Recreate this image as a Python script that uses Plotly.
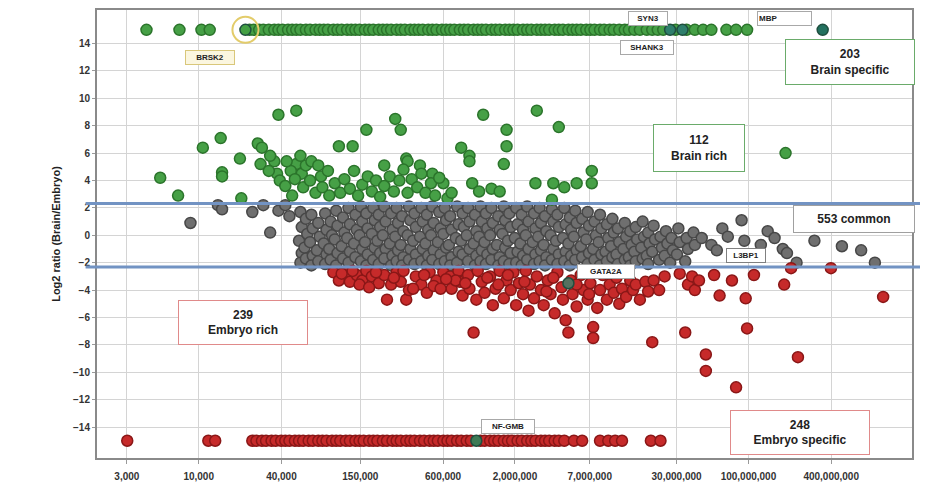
import plotly.graph_objects as go

SPECIFIC_RATIO = 15
FOLD_THRESHOLD = 2.32

x_tick_values = [3e3, 1e4, 4e4, 1.5e5, 6e5, 2e6, 7e6, 3e7, 1e8, 4e8]
x_tick_labels = ["3,000", "10,000", "40,000", "150,000", "600,000", "2,000,000",
                 "7,000,000", "30,000,000", "100,000,000", "400,000,000"]
y_tick_values = [-14, -12, -10, -8, -6, -4, -2, 0, 2, 4, 6, 8, 10, 12, 14]

# log10 of abundance (x) for proteins only detected in brain (ratio capped at +15)
brain_specific_log = [
    3.62, 3.86, 4.02, 4.08,
    4.37, 4.40, 4.44, 4.47, 4.51, 4.55, 4.58, 4.61, 4.65, 4.68, 4.71, 4.74, 4.78, 4.81,
    4.85, 4.88, 4.91, 4.94, 4.98, 5.01, 5.04, 5.08, 5.11, 5.14, 5.17, 5.21, 5.24, 5.27,
    5.31, 5.34, 5.37, 5.40, 5.44, 5.47, 5.50, 5.54, 5.57, 5.60, 5.63, 5.67, 5.70, 5.73,
    5.77, 5.80, 5.83, 5.86, 5.90, 5.93, 5.96, 6.00, 6.03, 6.06, 6.09, 6.13, 6.16, 6.19,
    6.23, 6.26, 6.29, 6.32, 6.36, 6.39, 6.42, 6.46, 6.49, 6.52, 6.55, 6.59, 6.62, 6.65,
    6.69, 6.72, 6.75, 6.78, 6.82, 6.85, 6.88, 6.92, 6.95, 6.99, 7.02, 7.06, 7.10, 7.13,
    7.17, 7.21, 7.26, 7.30, 7.34, 7.38, 7.47, 7.55, 7.61, 7.67, 7.73, 7.84, 7.91, 7.99,
]

# proteins only detected in embryo (ratio capped at -15)
embryo_specific_log = [
    3.48, 4.07, 4.12,
    4.39, 4.42, 4.46, 4.49, 4.53, 4.56, 4.60, 4.63, 4.66, 4.70, 4.73, 4.76, 4.80, 4.83,
    4.87, 4.90, 4.93, 4.97, 5.00, 5.03, 5.07, 5.10, 5.14, 5.17, 5.20, 5.24, 5.27, 5.30,
    5.34, 5.37, 5.41, 5.44, 5.47, 5.51, 5.54, 5.57, 5.61, 5.64, 5.68, 5.71, 5.74, 5.78,
    5.81, 5.84, 5.88, 5.91, 5.95, 5.98, 6.05, 6.08, 6.12, 6.15, 6.18, 6.22, 6.25, 6.28,
    6.32, 6.35, 6.39, 6.42, 6.45, 6.49, 6.52, 6.55, 6.59, 6.62, 6.66, 6.73, 6.79, 6.92,
    6.98, 7.03, 7.08, 7.29, 7.36,
]

brain_rich_log = [
    3.72, 3.85, 4.03, 4.16, 4.17, 4.17, 4.30, 4.31, 4.43, 4.46, 4.45, 4.58, 4.71, 4.55, 4.57, 4.59, 4.71, 4.75, 4.76,
    5.02, 5.12, 5.22, 5.43, 5.47, 5.35, 5.51, 5.52, 5.61, 5.70, 5.78, 5.81,
    6.07, 5.91, 5.97, 5.97, 5.99, 6.04, 6.13, 6.19, 6.24, 6.24, 6.22,
    6.46, 6.62, 6.45, 6.58, 6.66, 6.75, 6.86, 6.86, 6.57, 8.27,
    4.78, 4.81, 4.85, 4.89, 4.90, 4.94, 4.95, 4.99, 5.03, 5.06, 5.10, 5.13, 5.16, 5.19, 5.23, 5.26,
    5.29, 5.32, 5.35, 5.39, 5.42, 5.46, 5.49, 5.52, 5.55, 5.59, 5.62, 5.65, 5.69, 5.72, 5.75, 5.84,
    4.63, 4.67, 4.68, 4.74, 4.82, 4.87, 4.64, 4.70, 4.52, 4.51,
]
brain_rich_ratio = [
    4.2, 2.9, 6.4, 7.1, 4.6, 4.3, 5.6, 2.7, 6.7, 6.4, 5.2, 8.8, 9.1, 5.4, 4.5, 4.0, 5.2, 4.5, 3.5,
    6.5, 6.5, 7.7, 8.5, 7.7, 5.1, 5.6, 5.4, 5.1, 4.5, 3.8, 2.7,
    8.8, 6.4, 5.8, 5.4, 3.8, 3.2, 3.4, 3.2, 7.7, 6.5, 5.2,
    9.1, 7.9, 3.8, 3.8, 3.5, 3.8, 4.7, 3.8, 2.6, 6.0,
    5.1, 4.0, 3.1, 4.3, 3.5, 4.7, 2.9, 3.8, 3.1, 4.1, 3.4, 4.7, 2.9, 3.7, 4.3, 3.2,
    4.0, 2.8, 3.6, 4.3, 3.2, 4.0, 4.8, 3.1, 4.1, 3.5, 4.5, 3.1, 3.8, 2.9, 4.2, 3.1,
    3.6, 4.7, 2.9, 5.8, 5.4, 5.1, 5.4, 4.1, 5.8, 4.7,
]

common_log = [
    3.94, 4.14, 4.17, 4.39, 4.47, 4.52, 4.58, 4.63, 4.66,
    4.74, 4.75, 4.73, 4.75, 4.74,
    4.78, 4.79, 4.77, 4.78,
    4.82, 4.83, 4.81, 4.83, 4.82,
    4.87, 4.88, 4.86, 4.87,
    4.92, 4.93, 4.91, 4.93, 4.92,
    4.96, 4.97, 4.95, 4.96,
    5.00, 5.01, 4.99, 5.01, 5.00,
    5.05, 5.06, 5.04, 5.05,
    5.09, 5.10, 5.08, 5.10, 5.09,
    5.14, 5.15, 5.13, 5.14,
    5.18, 5.19, 5.17, 5.19, 5.18,
    5.22, 5.23, 5.21, 5.23, 5.22,
    5.27, 5.28, 5.26, 5.28, 5.27,
    5.31, 5.32, 5.30, 5.32, 5.31,
    5.35, 5.36, 5.34, 5.36, 5.35,
    5.40, 5.41, 5.39, 5.41, 5.40,
    5.44, 5.45, 5.43, 5.45, 5.44,
    5.48, 5.49, 5.47, 5.49, 5.48,
    5.53, 5.54, 5.52, 5.54, 5.53,
    5.57, 5.58, 5.56, 5.58, 5.57,
    5.62, 5.63, 5.61, 5.63, 5.62,
    5.66, 5.67, 5.65, 5.67, 5.66,
    5.70, 5.71, 5.69, 5.71, 5.70,
    5.75, 5.76, 5.74, 5.76, 5.75,
    5.79, 5.80, 5.78, 5.80, 5.79,
    5.83, 5.84, 5.82, 5.84, 5.83,
    5.88, 5.89, 5.87, 5.89, 5.88,
    5.92, 5.93, 5.91, 5.92,
    5.96, 5.97, 5.95, 5.97, 5.96,
    6.01, 6.02, 6.00, 6.02, 6.01,
    6.05, 6.06, 6.04, 6.06, 6.05,
    6.09, 6.10, 6.08, 6.10, 6.09,
    6.13, 6.14, 6.12, 6.14, 6.13,
    6.18, 6.19, 6.17, 6.19, 6.18,
    6.22, 6.23, 6.21, 6.23, 6.22,
    6.26, 6.27, 6.25, 6.27, 6.26,
    6.31, 6.32, 6.30, 6.32, 6.31,
    6.35, 6.36, 6.34, 6.36, 6.35,
    6.39, 6.40, 6.38, 6.40, 6.39,
    6.44, 6.45, 6.43, 6.45, 6.44,
    6.48, 6.49, 6.47, 6.49, 6.48,
    6.52, 6.53, 6.51, 6.53, 6.52,
    6.57, 6.58, 6.56, 6.58, 6.57,
    6.61, 6.62, 6.60, 6.62, 6.61,
    6.66, 6.67, 6.65, 6.67, 6.66,
    6.70, 6.71, 6.69, 6.71, 6.70,
    6.74, 6.75, 6.73, 6.75, 6.74,
    6.79, 6.80, 6.78, 6.79,
    6.83, 6.84, 6.82, 6.84, 6.83,
    6.88, 6.89, 6.87, 6.88,
    6.92, 6.93, 6.91, 6.93, 6.92,
    6.97, 6.98, 6.96, 6.97,
    7.01, 7.02, 7.00, 7.01,
    7.05, 7.06, 7.04, 7.05,
    7.10, 7.11, 7.09, 7.10,
    7.14, 7.15, 7.13, 7.14,
    7.18, 7.19, 7.17, 7.18,
    7.23, 7.24, 7.22, 7.23,
    7.27, 7.28, 7.26, 7.27,
    7.31, 7.32, 7.30,
    7.36, 7.37, 7.35,
    7.40, 7.41, 7.39,
    7.44, 7.45, 7.43,
    7.49, 7.50, 7.48,
    7.55, 7.56, 7.54,
    7.60, 7.61,
    7.66, 7.73, 7.77, 7.81, 7.85, 7.95, 7.97, 8.03, 8.09,
    8.14, 8.19, 8.25, 8.28, 8.35, 8.48, 8.68, 8.82, 8.92,
]
common_ratio = [
    0.9, 2.2, 1.9, 1.7, 2.2, 0.2, 1.8, 2.2, 1.4,
    1.7, 0.6, -0.4, -1.3, -2.0,
    1.2, 0.1, -0.9, -1.7,
    1.5, 0.5, -0.5, -1.5, -2.2,
    0.9, -0.1, -1.1, -1.9,
    1.6, 0.4, -0.6, -1.4, -2.1,
    1.0, 0.0, -1.0, -1.8,
    1.8, 0.7, -0.3, -1.3, -2.2,
    1.3, 0.2, -0.8, -1.7,
    2.0, 0.8, -0.2, -1.2, -2.0,
    1.5, 0.4, -0.6, -1.6,
    2.1, 1.0, 0.0, -1.0, -1.9,
    1.6, 0.5, -0.5, -1.4, -2.2,
    2.0, 1.1, 0.1, -0.9, -1.8,
    1.5, 0.6, -0.4, -1.3, -2.1,
    2.1, 1.0, 0.0, -1.0, -1.7,
    1.6, 0.4, -0.6, -1.5, -2.2,
    2.0, 0.9, -0.1, -1.1, -1.9,
    1.4, 0.3, -0.7, -1.6, -2.2,
    2.1, 1.1, 0.0, -1.0, -1.8,
    1.6, 0.6, -0.4, -1.4, -2.1,
    2.0, 1.0, -0.1, -1.0, -1.9,
    1.5, 0.4, -0.6, -1.5, -2.2,
    2.1, 0.9, 0.0, -1.1, -1.8,
    1.7, 0.5, -0.5, -1.4, -2.1,
    2.0, 1.1, 0.1, -0.9, -1.9,
    1.4, 0.4, -0.7, -1.6, -2.2,
    2.1, 0.8, -0.2, -1.2, -2.0,
    1.6, 0.6, -0.4, -1.4,
    2.0, 1.0, 0.0, -1.0, -1.9,
    1.5, 0.3, -0.6, -1.5, -2.2,
    2.1, 1.0, -0.1, -1.1, -1.9,
    1.6, 0.5, -0.5, -1.4, -2.1,
    2.0, 0.9, 0.0, -1.0, -1.8,
    1.4, 0.4, -0.7, -1.6, -2.2,
    2.1, 1.1, 0.1, -0.9, -1.9,
    1.6, 0.6, -0.4, -1.3, -2.1,
    2.0, 0.8, -0.2, -1.2, -2.0,
    1.5, 0.4, -0.6, -1.5, -2.2,
    2.1, 1.0, 0.0, -1.0, -1.8,
    1.6, 0.5, -0.5, -1.4, -2.1,
    2.0, 0.9, -0.1, -1.1, -1.9,
    1.4, 0.3, -0.7, -1.6, -2.2,
    1.9, 1.0, 0.0, -1.0, -1.8,
    1.5, 0.6, -0.4, -1.4, -2.1,
    2.0, 0.8, -0.2, -1.2, -1.9,
    1.3, 0.4, -0.6, -1.5, -2.2,
    1.8, 0.9, -0.1, -1.1, -1.8,
    1.2, 0.2, -0.8, -1.6,
    1.7, 0.7, -0.3, -1.3, -2.1,
    1.0, 0.0, -1.0, -1.8,
    1.5, 0.5, -0.5, -1.4, -2.2,
    0.8, -0.2, -1.2, -1.9,
    1.2, 0.2, -0.8, -1.6,
    0.5, -0.5, -1.4, -2.1,
    0.9, -0.1, -1.0, -1.8,
    0.3, -0.7, -1.6, -2.2,
    0.6, -0.3, -1.2, -1.9,
    1.0, -0.1, -0.9, -1.7,
    0.2, -0.6, -1.5, -2.1,
    0.7, -0.3, -1.2,
    -0.1, -0.9, -1.8,
    0.3, -0.6, -1.5,
    -0.2, -1.1, -2.0,
    0.5, -0.5, -1.4,
    -0.2, -1.0, -1.9,
    0.2, -0.7,
    -0.2, -0.7, -1.1, 0.5, -0.1, 1.1, -0.4, -1.5, -0.7,
    0.3, -0.2, -1.0, -1.3, -2.0, -0.4, -0.8, -1.1, -2.0,
]

embryo_rich_log = [
    4.98, 5.02, 5.07, 5.10, 5.15, 5.19, 5.22, 5.26, 5.31, 5.35, 5.37, 5.40, 5.44, 5.47, 5.51, 5.53, 5.58, 5.62, 5.66, 5.68, 5.73, 5.78,
    5.83, 5.84, 5.89, 5.90, 5.92, 5.96, 5.97, 6.00, 6.02, 6.03, 6.06, 6.08, 6.12, 6.14, 6.16, 6.19, 6.22, 6.24, 6.27, 6.29,
    6.31, 6.33, 6.36, 6.38, 6.40, 6.41, 6.44, 6.46, 6.49, 6.51, 6.54, 6.56, 6.59, 6.61, 6.64, 6.65, 6.67, 6.69, 6.71, 6.72,
    6.75, 6.78, 6.80, 6.83, 6.85, 6.87, 6.87, 6.90, 6.92, 6.94, 6.97, 6.99, 7.02, 7.04, 7.06, 7.08, 7.11, 7.14, 7.16, 7.18,
    7.21, 7.25, 7.27, 7.30, 7.31, 7.35, 7.39, 7.50, 7.54, 7.56, 7.59, 7.61, 7.64, 7.69, 7.69, 7.75, 7.79, 7.88, 7.91, 7.98,
    7.99, 8.04, 8.26, 8.31, 8.36, 8.60, 8.98,
    5.87, 5.94, 6.10, 6.18, 6.25, 6.37, 6.53, 6.58, 6.75, 6.84,
    5.04, 5.12, 5.17, 5.24, 5.29, 5.42, 5.49, 5.56, 5.64, 5.71, 5.76, 5.80,
]
embryo_rich_ratio = [
    -2.7, -3.3, -2.7, -3.4, -2.9, -3.3, -2.6, -3.0, -3.5, -2.9, -4.7, -3.6, -2.7, -3.4, -4.7, -4.0, -3.0, -3.6, -4.2, -2.7, -3.3, -2.7,
    -3.0, -3.9, -2.6, -3.4, -4.4, -2.9, -3.9, -7.1, -4.7, -2.6, -3.4, -4.2, -3.0, -5.1, -3.9, -2.6, -4.6, -3.3, -4.0, -2.7,
    -5.1, -3.5, -4.3, -2.6, -5.5, -3.6, -4.6, -3.0, -4.0, -5.1, -3.3, -4.3, -5.7, -2.7, -3.8, -4.7, -6.2, -7.1, -3.3, -4.3,
    -5.2, -2.9, -4.0, -4.7, -3.5, -6.7, -7.5, -5.3, -4.0, -2.9, -4.7, -3.6, -4.2, -3.1, -5.0, -3.9, -4.5, -3.3, -4.0, -3.6,
    -4.7, -3.4, -4.1, -7.8, -3.3, -4.0, -3.0, -2.8, -7.1, -3.6, -3.0, -4.0, -3.3, -8.7, -9.9, -2.9, -4.4, -3.3, -11.1, -4.6,
    -6.8, -2.9, -3.6, -2.4, -8.9, -2.4, -4.5,
    -3.3, -3.5, -3.1, -3.6, -2.9, -3.4, -4.1, -3.1, -3.6, -4.3,
    -2.8, -2.6, -3.6, -3.8, -2.7, -3.1, -2.6, -3.9, -2.9, -3.7, -3.9, -3.2,
]

highlight_genes = ["BRSK2", "SYN3", "SHANK3", "MBP", "GATA2A", "NF-GMB"]
highlight_log = [4.34, 7.43, 7.52, 8.54, 6.69, 6.02]
highlight_ratio = [15, 15, 15, 15, -3.5, -15]
highlight_fill = ["#43a043", "#2f7f6c", "#2f7f6c", "#23715f", "#56705f", "#3f7a55"]

assert len(common_log) == len(common_ratio)
assert len(brain_rich_log) == len(brain_rich_ratio)
assert len(embryo_rich_log) == len(embryo_rich_ratio)


def to_abund(logs):
    return [10 ** v for v in logs]


GREEN, GREEN_EDGE = "#46a046", "#2b742b"
GREY, GREY_EDGE = "#6f6f6f", "#474747"
RED, RED_EDGE = "#c62a2a", "#8a1717"

fig = go.Figure()


def add_points(logs, ratios, fill, edge, size=11):
    fig.add_trace(go.Scatter(
        x=to_abund(logs), y=ratios, mode="markers", hoverinfo="skip",
        marker=dict(size=size, color=fill, line=dict(color=edge, width=1.5)),
    ))


add_points(common_log, common_ratio, GREY, GREY_EDGE)
add_points(brain_rich_log, brain_rich_ratio, GREEN, GREEN_EDGE)
add_points(embryo_rich_log, embryo_rich_ratio, RED, RED_EDGE)
add_points(brain_specific_log, [SPECIFIC_RATIO] * len(brain_specific_log), GREEN, GREEN_EDGE)
add_points(embryo_specific_log, [-SPECIFIC_RATIO] * len(embryo_specific_log), RED, RED_EDGE)
add_points(highlight_log, highlight_ratio, highlight_fill, "#1f4f3f")

# yellow ring around BRSK2
fig.add_trace(go.Scatter(
    x=to_abund(highlight_log[:1]), y=highlight_ratio[:1], mode="markers", hoverinfo="skip",
    marker=dict(size=26, symbol="circle-open", color="#e3cc6a", line=dict(color="#e3cc6a", width=2)),
))

FONT = "Liberation Sans, Arial, sans-serif"

shapes = []
for yv in (FOLD_THRESHOLD, -FOLD_THRESHOLD):
    shapes.append(dict(type="line", xref="paper", yref="y", x0=-0.014, x1=1.01, y0=yv, y1=yv,
                       line=dict(color="#7293c3", width=3), layer="above"))

annotations = []


def box(text, xp, yp, w, h, border, size=12, bg="white", align="center"):
    annotations.append(dict(
        text=text, xref="paper", yref="paper", x=xp, y=yp, xanchor="center", yanchor="middle",
        showarrow=False, width=w, height=h, align=align, valign="middle",
        bordercolor=border, borderwidth=1, borderpad=1, bgcolor=bg,
        font=dict(family=FONT, size=size, color="#222222", weight="bold"),
    ))


box("203<br>Brain specific", 0.924, 0.884, 126, 42, "#6aab6a")
box("112<br>Brain rich", 0.739, 0.693, 88, 44, "#6aab6a")
box("553 common", 0.929, 0.533, 118, 24, "#a0a0a0")
box("239<br>Embryo rich", 0.179, 0.302, 126, 41, "#e08a8a")
box("248<br>Embryo specific", 0.863, 0.058, 136, 41, "#e08a8a")

box("BRSK2", 0.139, 0.893, 46, 11, "#d9c77a", size=8, bg="#fbf6df")
box("SYN3", 0.676, 0.980, 36, 11, "#a8a8a8", size=8)
box("SHANK3", 0.675, 0.916, 50, 11, "#a8a8a8", size=8)
box("MBP", 0.844, 0.980, 51, 11, "#a8a8a8", size=8, align="left")
box("GATA2A", 0.625, 0.416, 54, 11, "#a8a8a8", size=8)
box("L3BP1", 0.796, 0.453, 36, 11, "#808080", size=8)
box("NF-GMB", 0.504, 0.071, 50, 11, "#a8a8a8", size=8)

# the page adds an 8px body margin, so the plot margins are trimmed by 8px on the left/top
fig.update_layout(
    width=928, height=492,
    margin=dict(l=89, r=24, t=0, b=42),
    paper_bgcolor="white", plot_bgcolor="white",
    showlegend=False,
    font=dict(family=FONT, color="#333333"),
    shapes=shapes, annotations=annotations,
    xaxis=dict(
        type="log", range=[3.26, 9.19],
        tickvals=x_tick_values, ticktext=x_tick_labels,
        showgrid=True, gridcolor="#d4d4d4", gridwidth=1, zeroline=False,
        showline=True, linecolor="#8a8a8a", linewidth=2, mirror=True,
        ticks="outside", ticklen=4, tickcolor="#9a9a9a", ticklabelstandoff=4,
        tickfont=dict(family=FONT, size=10, color="#333333", weight="bold"),
    ),
    yaxis=dict(
        range=[-16.26, 16.45], tickvals=y_tick_values,
        showgrid=True, gridcolor="#d4d4d4", gridwidth=1, zeroline=False,
        showline=True, linecolor="#8a8a8a", linewidth=2, mirror=True,
        ticks="outside", ticklen=3, tickcolor="#9a9a9a",
        tickfont=dict(family=FONT, size=10, color="#333333", weight="bold"),
        title=dict(text="Log2 ratio (Brain/Embryo)", standoff=10,
                   font=dict(family=FONT, size=11, color="#222222", weight="bold")),
    ),
)

fig.write_html("out.html")
